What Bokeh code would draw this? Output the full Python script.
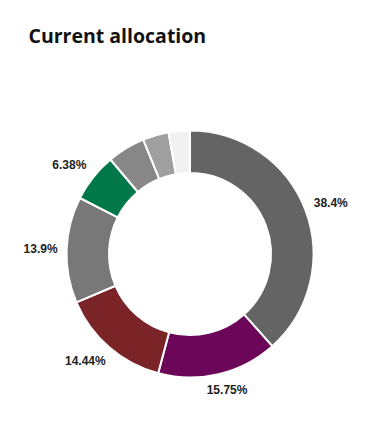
import math
from bokeh.plotting import figure
from bokeh.models import Range1d, ColumnDataSource
from bokeh.core.properties import value
from bokeh.embed import file_html
from bokeh.resources import INLINE

# ---- data ----
title = "Current allocation"
shares = [38.4, 15.75, 14.44, 13.9, 6.38, 4.95, 3.4, 2.78]
labels = ["38.4%", "15.75%", "14.44%", "13.9%", "6.38%", "", "", ""]
colors = ["#646464", "#6c0658", "#7b2428", "#787878", "#007849",
          "#878787", "#9f9f9f", "#f1f1f1"]

W, H = 354, 408
p = figure(width=W, height=H, output_backend="svg", toolbar_location=None,
           x_range=Range1d(0, W), y_range=Range1d(424 - H, 424),
           min_border=0)
p.axis.visible = False
p.grid.visible = False
p.outline_line_color = None
p.background_fill_color = "white"

cx, cy = 189.5, 424 - 253.5
r_out, r_in = 123.5, 81

total = sum(shares)
starts, ends = [], []
cum = 0.0
for s in shares:
    starts.append(math.pi / 2 - cum / total * 2 * math.pi)
    cum += s
    ends.append(math.pi / 2 - cum / total * 2 * math.pi)

src = ColumnDataSource(dict(x=[cx] * len(shares), y=[cy] * len(shares),
                            start=starts, end=ends, color=colors))
p.annular_wedge(x="x", y="y", inner_radius=r_in, outer_radius=r_out,
                start_angle="start", end_angle="end", direction="clock",
                fill_color="color", line_color="white", line_width=2, source=src)

# labels outside: box corner near the ring, box pushed outward
lx, ly, lt = [], [], []
for s, lab, a0, a1 in zip(shares, labels, starts, ends):
    if not lab:
        continue
    mid = (a0 + a1) / 2
    dx, dy = math.cos(mid), math.sin(mid)
    hw = len(lab) * 3.3
    ox = math.copysign(hw * min(1.0, abs(dx) * 1.35), dx)
    oy = math.copysign(6.5 * min(1.0, abs(dy) * 1.5), dy)
    lx.append(cx + 133 * dx + ox)
    ly.append(cy + 133 * dy + oy)
    lt.append(lab)

p.text(x=lx, y=ly, text=lt, text_font=value("Liberation Sans"),
       text_font_size="12px", text_font_style="bold", text_color="#222222",
       text_align="center", text_baseline="middle")

p.text(x=[28], y=[424 - 35], text=[title], text_font=value("Open Sans"),
       text_font_size="19.5px", text_font_style="bold", text_color="#111111",
       text_align="left", text_baseline="alphabetic")

open("out.html", "w").write(file_html(p, INLINE))
